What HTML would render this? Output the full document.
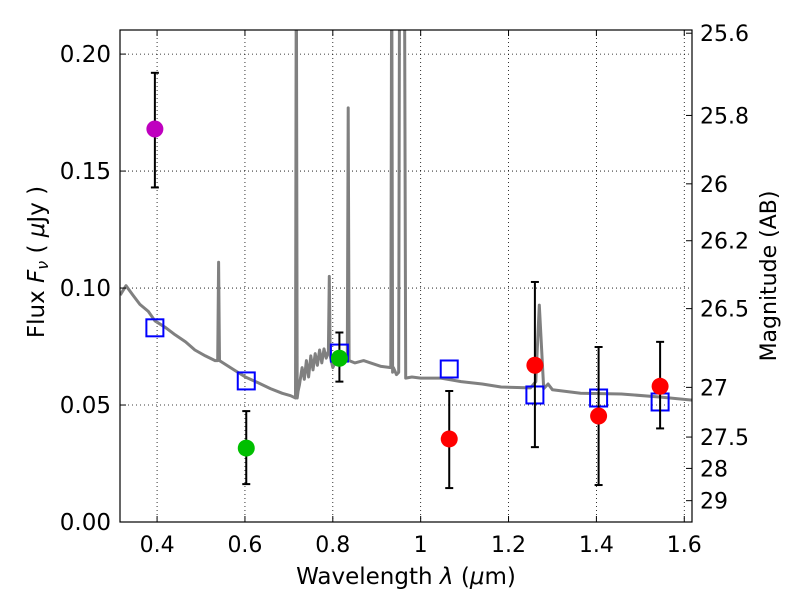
<!DOCTYPE html>
<html><head><meta charset="utf-8"><style>
body{margin:0;background:#fff}
svg{display:block;font-family:"DejaVu Sans","Liberation Sans",sans-serif}
</style></head><body>
<svg id="c" width="800" height="600"></svg>
<script>
const specLam=[0.316,0.3293,0.345,0.361,0.380,0.395,0.420,0.441,0.465,0.486,0.510,0.532,0.538,0.540,0.542,0.575,0.601,0.630,0.658,0.685,0.704,0.715,0.717,0.719,0.721,0.724,0.730,0.735,0.740,0.745,0.750,0.755,0.760,0.765,0.770,0.775,0.780,0.785,0.790,0.792,0.794,0.800,0.810,0.820,0.833,0.835,0.837,0.850,0.870,0.886,0.910,0.932,0.934,0.936,0.938,0.945,0.950,0.952,0.956,0.960,0.963,0.966,0.980,1.0,1.046,1.092,1.140,1.183,1.25,1.262,1.270,1.280,1.290,1.300,1.364,1.457,1.547,1.621];
const specFlux=[0.097,0.101,0.097,0.093,0.090,0.086,0.083,0.080,0.077,0.0735,0.071,0.069,0.069,0.111,0.069,0.065,0.062,0.0595,0.057,0.055,0.054,0.053,0.25,0.053,0.056,0.0585,0.066,0.061,0.069,0.062,0.071,0.065,0.072,0.067,0.0735,0.068,0.074,0.070,0.073,0.105,0.071,0.066,0.070,0.070,0.069,0.177,0.069,0.068,0.069,0.068,0.0665,0.066,0.25,0.064,0.066,0.063,0.064,0.25,0.25,0.25,0.25,0.0615,0.062,0.0615,0.0615,0.060,0.059,0.0577,0.0573,0.060,0.0927,0.0570,0.0590,0.0565,0.055,0.0547,0.0534,0.052];
const ptLam=[0.395,0.603,0.815,1.065,1.26,1.405,1.545];
const ptFlux=[0.168,0.0316,0.070,0.0355,0.067,0.0453,0.058];
const errLo=[0.143,0.0162,0.060,0.0145,0.032,0.0158,0.040];
const errHi=[0.192,0.0474,0.081,0.056,0.1026,0.0748,0.077];
const ptColor=['#bf00bf','#00bf00','#00bf00','#ff0000','#ff0000','#ff0000','#ff0000'];
const modelFlux=[0.083,0.0603,0.0722,0.0654,0.0543,0.053,0.0513];
const xTicks=[0.4,0.6,0.8,1.0,1.2,1.4,1.6];
const xTickLabels=['0.4','0.6','0.8','1','1.2','1.4','1.6'];
const yTicks=[0,0.05,0.10,0.15,0.20];
const yTickLabels=['0.00','0.05','0.10','0.15','0.20'];
const magTicks=[25.6,25.8,26,26.2,26.5,27,27.5,28,29];
const magTickLabels=['25.6','25.8','26','26.2','26.5','27','27.5','28','29'];

const L=120,R=692,T=30,B=522;
const X0=0.3156,X1=1.6176,Y0=0,Y1=0.2103;
const sx=v=>L+(v-X0)/(X1-X0)*(R-L);
const sy=v=>B-(v-Y0)/(Y1-Y0)*(B-T);
const magToFlux=m=>Math.pow(10,(23.9-m)/2.5);
const svg=document.getElementById('c');
const NS='http://www.w3.org/2000/svg';
function mk(tag,attrs,parent){const e=document.createElementNS(NS,tag);for(const k in attrs)e.setAttribute(k,attrs[k]);(parent||svg).appendChild(e);return e;}
const defs=mk('defs',{});const cp=mk('clipPath',{id:'clip'},defs);mk('rect',{x:L,y:T,width:R-L,height:B-T},cp);
const FS=24;
const grid=mk('g',{});


xTicks.forEach(t=>{mk('line',{x1:sx(t),x2:sx(t),y1:T,y2:B,stroke:'#000','stroke-width':0.8,'stroke-dasharray':'1,3'},grid);});
yTicks.forEach(t=>{mk('line',{x1:L,x2:R,y1:sy(t),y2:sy(t),stroke:'#000','stroke-width':0.8,'stroke-dasharray':'1,3'},grid);});
const g=mk('g',{'clip-path':'url(#clip)'});
let d='';specLam.forEach((l,i)=>{d+=(i?'L':'M')+sx(l).toFixed(1)+','+sy(specFlux[i]).toFixed(1);});
const sp=mk('path',{d:d,fill:'none',stroke:'#808080','stroke-width':3,'stroke-linejoin':'round'},g);


modelFlux.forEach((f,i)=>{const r=mk('rect',{x:sx(ptLam[i])-8.5,y:sy(f)-8.5,width:17,height:17,fill:'none',stroke:'#0000ff','stroke-width':2},g);

});
ptLam.forEach((l,i)=>{const x=sx(l);
const e=mk('g',{},g);


mk('line',{x1:x,x2:x,y1:sy(errLo[i]),y2:sy(errHi[i]),stroke:'#000','stroke-width':2},e);
mk('line',{x1:x-4,x2:x+4,y1:sy(errLo[i]),y2:sy(errLo[i]),stroke:'#000','stroke-width':2},e);
mk('line',{x1:x-4,x2:x+4,y1:sy(errHi[i]),y2:sy(errHi[i]),stroke:'#000','stroke-width':2},e);
const c=mk('circle',{cx:x,cy:sy(ptFlux[i]),r:8.5,fill:ptColor[i]},g);

});
const fr=mk('rect',{x:L,y:T,width:R-L,height:B-T,fill:'none',stroke:'#000','stroke-width':1.2});


xTicks.forEach((t,i)=>{const x=sx(t);mk('line',{x1:x,x2:x,y1:B,y2:B-6,stroke:'#000'});mk('line',{x1:x,x2:x,y1:T,y2:T+6,stroke:'#000'});
const tx=mk('text',{x:x,y:B+30,'font-size':FS-2,'text-anchor':'middle'});tx.textContent=xTickLabels[i];

});
yTicks.forEach((t,i)=>{const y=sy(t);mk('line',{x1:L,x2:L+6,y1:y,y2:y,stroke:'#000'});
const tx=mk('text',{x:L-9,y:y+8,'font-size':FS-1,'text-anchor':'end'});tx.textContent=yTickLabels[i];

});
magTicks.forEach((m,i)=>{const y=sy(magToFlux(m));mk('line',{x1:R,x2:R-6,y1:y,y2:y,stroke:'#000'});
const tx=mk('text',{x:R+8,y:y+8,'font-size':FS-2});tx.textContent=magTickLabels[i];

});
const xt=mk('text',{x:406,y:584,'font-size':FS-1,'text-anchor':'middle'});xt.innerHTML='Wavelength  <tspan font-style="italic">λ</tspan> (<tspan font-style="italic">μ</tspan>m)';


const yt=mk('text',{x:0,y:0,'font-size':FS-1,'text-anchor':'middle',transform:'translate(44,262) rotate(-90)'});yt.innerHTML='Flux  <tspan font-style="italic">F<tspan font-size="16" dy="4">ν</tspan></tspan><tspan dy="-4">  (  </tspan><tspan font-style="italic">μ</tspan>Jy )';


const rt=mk('text',{x:0,y:0,'font-size':FS-2,'text-anchor':'middle',transform:'translate(776,276) rotate(-90)'});rt.textContent='Magnitude (AB)';


</script>
</body></html>
